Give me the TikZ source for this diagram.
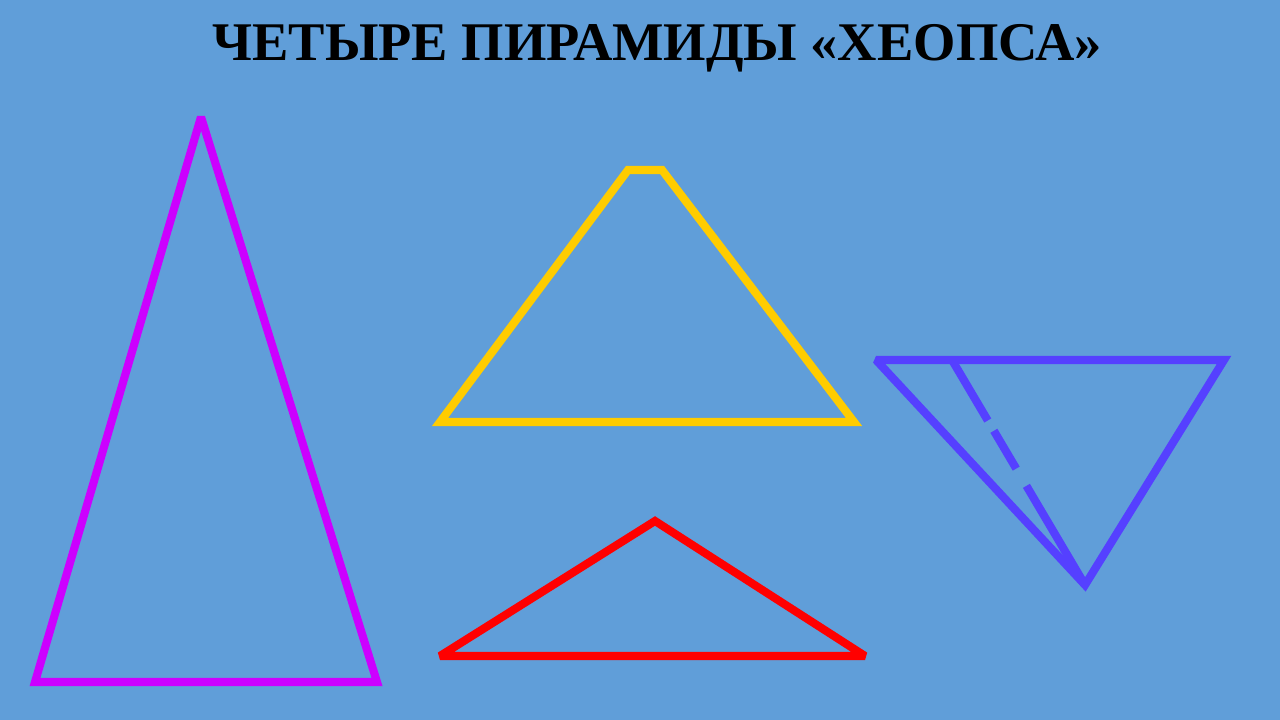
\documentclass[tikz,border=0pt]{standalone}
\usepackage{fontspec}
\setmainfont{Liberation Serif}
\definecolor{bg}{RGB}{96,158,217}
\definecolor{pyrpurple}{RGB}{204,0,255}
\definecolor{pyryellow}{RGB}{255,204,0}
\definecolor{pyrred}{RGB}{255,0,0}
\definecolor{pyrblue}{RGB}{85,64,255}
\tikzset{edge/.style={line width=2.3pt,line join=miter,miter limit=2.5}}
\begin{document}
\begin{tikzpicture}
	\fill[bg] (0,0) rectangle (12.8,7.2);
	\node (title) at (6.57,6.72) {\fontsize{15.5}{18}\selectfont\bfseries ЧЕТЫРЕ ПИРАМИДЫ «ХЕОПСА»};
	\draw[edge,pyrpurple] (2.01,6.03) -- (3.77,0.38) -- (0.35,0.38) -- cycle;
	\draw[edge,pyryellow] (4.40,2.98) -- (6.28,5.50) -- (6.62,5.50) -- (8.54,2.98) -- cycle;
	\draw[edge,pyrred] (4.40,0.64) -- (6.55,1.99) -- (8.65,0.64) -- cycle;
	\draw[edge,pyrblue] (8.76,3.60) -- (12.24,3.60) -- (10.85,1.35) -- cycle;
	\draw[edge,pyrblue,dash pattern=on 20pt off 3.4pt on 12.5pt off 5.7pt on 80pt] (9.52,3.60) -- (10.85,1.35);
\end{tikzpicture}
\end{document}
